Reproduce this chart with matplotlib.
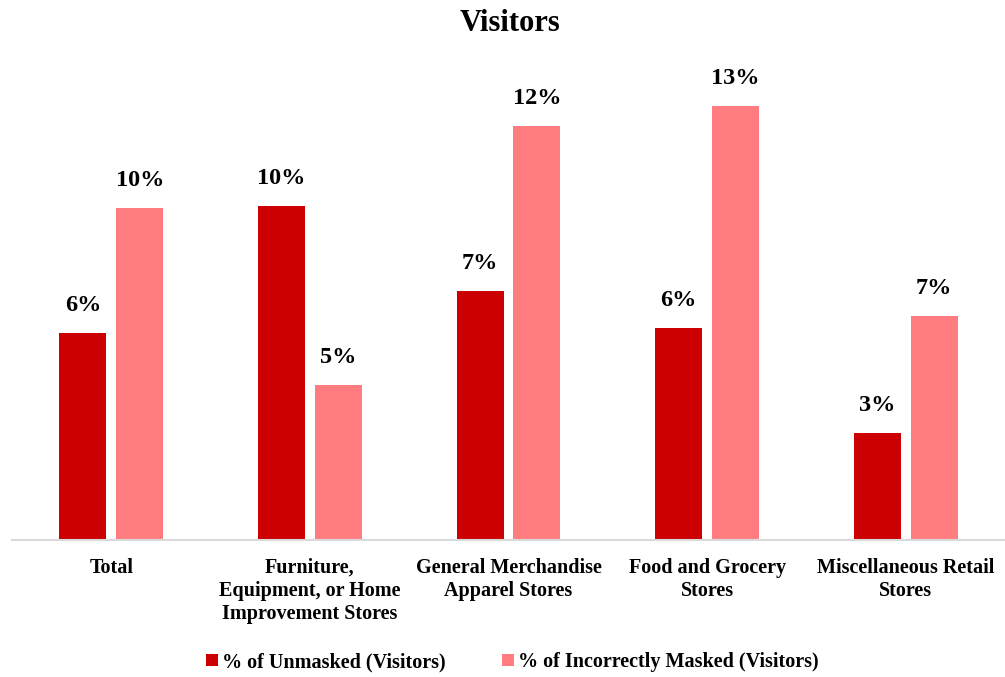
import numpy as np
import matplotlib.pyplot as plt

categories = ['Total', 'Furniture,\nEquipment, or Home\nImprovement Stores',
              'General Merchandise\nApparel Stores', 'Food and Grocery\nStores',
              'Miscellaneous Retail\nStores']
unmasked = [6.2, 10.0, 7.45, 6.35, 3.2]
incorrect = [9.95, 4.65, 12.4, 13.0, 6.7]
series_names = ['% of Unmasked (Visitors)', '% of Incorrectly Masked (Visitors)']

plt.rcParams['font.family'] = ['Liberation Serif', 'DejaVu Serif']
plt.rcParams['font.weight'] = 'bold'

fig = plt.figure(figsize=(10.05, 6.77), dpi=100)
ax = fig.add_axes([12 / 1005, 137 / 677, 993 / 1005, 480 / 677])

x = np.arange(len(categories))
w = 0.236
gap = 0.05
b1 = ax.bar(x - (w + gap) / 2, unmasked, w, color='#CC0000', label=series_names[0])
b2 = ax.bar(x + (w + gap) / 2, incorrect, w, color='#FF7C80', label=series_names[1])

# value labels above each bar
for bars, vals in [(b1, unmasked), (b2, incorrect)]:
    for rect, v in zip(bars, vals):
        ax.text(rect.get_x() + rect.get_width() / 2, v + 0.5, f'{v:.0f}%',
                ha='center', va='bottom', fontsize=17.5, fontweight='bold')

ax.set_xlim(-0.5, len(categories) - 0.5)
ax.set_ylim(0, 14.37)
ax.set_xticks(x)
ax.set_xticklabels(categories, fontsize=14.5, fontweight='bold', linespacing=1.2)
ax.tick_params(axis='x', length=0, pad=13)
ax.set_yticks([])
for s in ['top', 'right', 'left']:
    ax.spines[s].set_visible(False)
ax.spines['bottom'].set_color('#D9D9D9')
ax.spines['bottom'].set_linewidth(1.5)

fig.text(0.507, 0.965, 'Visitors', ha='center', va='center', fontsize=22, fontweight='bold')

fig.legend(handles=[b1, b2], loc='center', bbox_to_anchor=(0.51, 0.022), ncol=2,
           frameon=False, fontsize=14.5, handlelength=0.6, handleheight=0.6,
           handletextpad=0.2, columnspacing=2.8)

fig.savefig('out.png', dpi=100)
